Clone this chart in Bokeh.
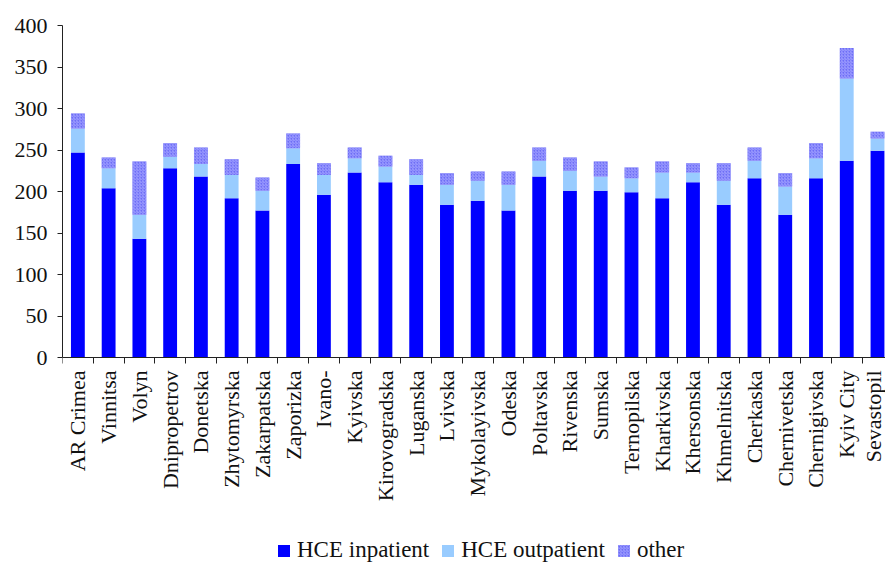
import math
from bokeh.plotting import figure
from bokeh.models import Range1d, FixedTicker, ColumnDataSource
from bokeh.embed import file_html
from bokeh.resources import INLINE

regions = ["AR Crimea", "Vinnitsa", "Volyn", "Dnipropetrov", "Donetska", "Zhytomyrska",
           "Zakarpatska", "Zaporizka", "Ivano-", "Kyivska", "Kirovogradska", "Luganska",
           "Lvivska", "Mykolayivska", "Odeska", "Poltavska", "Rivenska", "Sumska",
           "Ternopilska", "Kharkivska", "Khersonska", "Khmelnitska", "Cherkaska",
           "Chernivetska", "Chernigivska", "Kyiv City", "Sevastopil"]
inpatient = [247, 204, 143, 228, 218, 192, 177, 233, 196, 223, 211, 208, 184, 189, 177,
             218, 201, 201, 199, 192, 211, 184, 216, 172, 216, 237, 249]
outpatient = [29, 24, 29, 14, 15, 28, 24, 19, 24, 17, 19, 12, 24, 24, 31,
              19, 24, 17, 17, 31, 12, 29, 21, 34, 24, 99, 15]
other = [18, 13, 64, 16, 20, 19, 16, 18, 14, 13, 13, 19, 14, 11, 16,
         16, 16, 18, 13, 13, 11, 21, 16, 16, 18, 37, 8]
series = ["HCE inpatient", "HCE outpatient", "other"]
y_ticks = [0, 50, 100, 150, 200, 250, 300, 350, 400]

xs = [i + 0.5 for i in range(len(regions))]
src = ColumnDataSource(dict(x=xs, inpatient=inpatient, outpatient=outpatient, other=other))

FONT = "Liberation Serif"

# frame spans from the top margin to the bottom of the window; value 0 sits 332 px below 400
px_per_unit = 332 / 400
frame_h = 538
y_start = 400 - frame_h / px_per_unit

p = figure(frame_width=823, frame_height=frame_h, output_backend="svg", toolbar_location=None,
           x_range=Range1d(0, 26.76), y_range=Range1d(y_start, 400),
           min_border_left=62, min_border_right=0, min_border_top=25, min_border_bottom=0)
p.outline_line_color = None
p.xgrid.visible = False
p.ygrid.visible = False

renderers = p.vbar_stack(["inpatient", "outpatient", "other"], x="x", width=0.45, source=src,
                         color=["#0000ff", "#99ccff", "#6e6ef6"], line_color=None,
                         legend_label=series)
r_other = renderers[2]
r_other.glyph.hatch_pattern = "right_diagonal_line"
r_other.glyph.hatch_color = "#a0a0ff"
r_other.glyph.hatch_scale = 3
r_other.glyph.hatch_weight = 1

xa = p.xaxis[0]
xa.fixed_location = 0
xa.ticker = FixedTicker(ticks=xs, minor_ticks=list(range(len(regions) + 1)))
xa.major_label_overrides = {x: r for x, r in zip(xs, regions)}
xa.major_label_orientation = math.pi / 2
xa.major_tick_line_color = None
xa.major_tick_out = 0
xa.major_tick_in = 0
xa.minor_tick_out = 6
xa.minor_tick_in = 0
xa.minor_tick_line_color = "#222222"
xa.axis_line_color = "#222222"
xa.major_label_standoff = 7
xa.major_label_text_font = FONT
xa.major_label_text_font_size = "22px"
xa.major_label_text_color = "#111111"

ya = p.yaxis[0]
ya.bounds = (0, 400)
ya.ticker = FixedTicker(ticks=y_ticks)
ya.minor_tick_line_color = None
ya.major_tick_out = 5
ya.major_tick_in = 0
ya.major_tick_line_color = "#222222"
ya.axis_line_color = "#222222"
ya.major_label_standoff = 10
ya.major_label_text_font = FONT
ya.major_label_text_font_size = "22px"
ya.major_label_text_color = "#111111"

leg = p.legend[0]
leg.orientation = "horizontal"
leg.location = (214, 0)
leg.label_text_font = FONT
leg.label_text_font_size = "23px"
leg.label_text_color = "#111111"
leg.glyph_width = 15
leg.glyph_height = 15
leg.label_standoff = 6
leg.spacing = 11
leg.padding = 0
leg.margin = 0
leg.border_line_color = None
leg.background_fill_alpha = 0

open("out.html", "w").write(file_html(p, INLINE))
